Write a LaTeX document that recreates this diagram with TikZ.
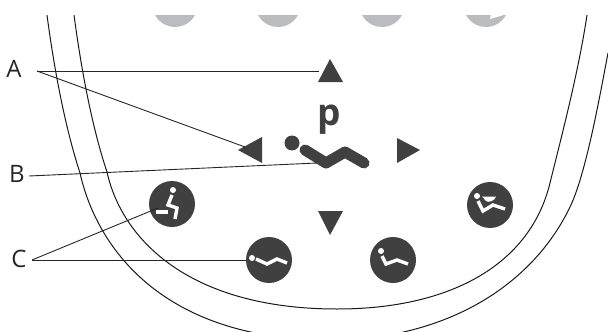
\documentclass[tikz,border=0pt]{standalone}
\usepackage{fontspec}
\setmainfont{Open Sans}
\definecolor{btnDark}{HTML}{404040}
\definecolor{softGrey}{HTML}{BBBCBF}
\tikzset{
    btn/.style={circle, fill=btnDark, draw=none, minimum size=46pt, inner sep=0pt},
    lbl/.style={text=black!85, font=\fontsize{24}{26}\selectfont, inner sep=0pt},
    leader/.style={line width=0.9pt, draw=black!85},
    shell/.style={line width=1pt, draw=black!90},
    iconline/.style={line width=3.4pt, draw=white, line join=miter}
}

\begin{document}
\begin{tikzpicture}[x=1pt, y=-1pt]

\useasboundingbox (0,0) rectangle (608,332);

% Soft keys cut by the top edge
\def\softRadius{22.7}
\begin{scope}
    \clip (0,15) rectangle (608,60);
    \foreach \softX in {175,278,382,486} {
        \fill[softGrey] (\softX,4.3) circle (\softRadius);
    }
    \fill[white] (491,14) -- (490,19) -- (507,14) -- cycle;
\end{scope}

% Shell outlines
\begin{scope}
    \clip (0,15) rectangle (608,332);
    \draw[shell]
        (74,15) .. controls (82,75) and (93,130) .. (107,172)
        .. controls (122,240) and (190,309) .. (337,309)
        .. controls (450,309) and (530,265) .. (550,183)
        .. controls (560,142) and (578,75) .. (587,15);
    \draw[shell]
        (47,15) .. controls (55,75) and (66,130) .. (80,173)
        .. controls (96,245) and (160,340) .. (330,340)
        .. controls (440,340) and (530,290) .. (570,207)
        .. controls (586,174) and (600,95) .. (608,53);
\end{scope}

% Labels
\node[lbl] (labelA) at (14,69) {A};
\node[lbl] (labelB) at (17,174) {B};
\node[lbl] (labelC) at (19,259) {C};

% Coordinates
\coordinate (fromA) at (37,71);
\coordinate (fromB) at (29,176);
\coordinate (fromC) at (32,260);
\coordinate (upTip) at (319,71);
\coordinate (leftTip) at (245,147);
\coordinate (bodyTip) at (317,163);
\coordinate (seatTip) at (158,208);

% Arrow keys
\fill[btnDark] (330,59) -- (343,82) -- (318,82) -- cycle;
\fill[btnDark] (238,150) -- (262,137) -- (262,163) -- cycle;
\fill[btnDark] (420,150) -- (397,138) -- (397,163) -- cycle;
\fill[btnDark] (330,235) -- (343,211) -- (318,211) -- cycle;

% Programme symbol
\node[font=\fontsize{37}{40}\selectfont\bfseries, text=btnDark, inner sep=0pt] (progP) at (329,120) {p};
\fill[btnDark] (292,143) circle (7.5);
\draw[
    btnDark,
    line width=11pt,
    line cap=round,
    line join=round
]
    (305,150) -- (326,163) -- (345,152) -- (364,163);

% Buttons
\node[btn] (seatBtn) at (172,204) {};
\node[btn] (flatBtn) at (269,260) {};
\node[btn] (reclineBtn) at (393,260) {};
\node[btn] (bowlBtn) at (490,205) {};

% Leader lines
\draw[leader] (fromA) -- (upTip);
\draw[leader] (fromA) -- (leftTip);
\draw[leader] (fromB) -- (bodyTip);
\draw[leader] (fromC) -- (seatTip);
\draw[leader] (fromC) -- (flatBtn.west);

% Seated figure
\fill[white] (173,190) circle (3);
\draw[iconline] (172,195) -- (168,205) -- (177,208) -- (175,219);
\draw[iconline] (156,212) -- (168,212);

% Flat figure
\fill[white] (252,258) circle (3);
\draw[iconline] (256,259) -- (267,264) -- (277,259) -- (287,263);

% Reclined figure
\fill[white] (381,251) circle (3);
\draw[iconline] (382,256) -- (386,264) -- (397,260) -- (408,264);

% Reclined figure with bowl
\fill[white] (477,196) circle (3);
\draw[iconline] (478,201) -- (483,211) -- (493,205) -- (505,209);
\fill[white] (482,196.5) -- (496,196.5) .. controls (495,201) and (488,203) .. (486,201) -- cycle;

\end{tikzpicture}
\end{document}
